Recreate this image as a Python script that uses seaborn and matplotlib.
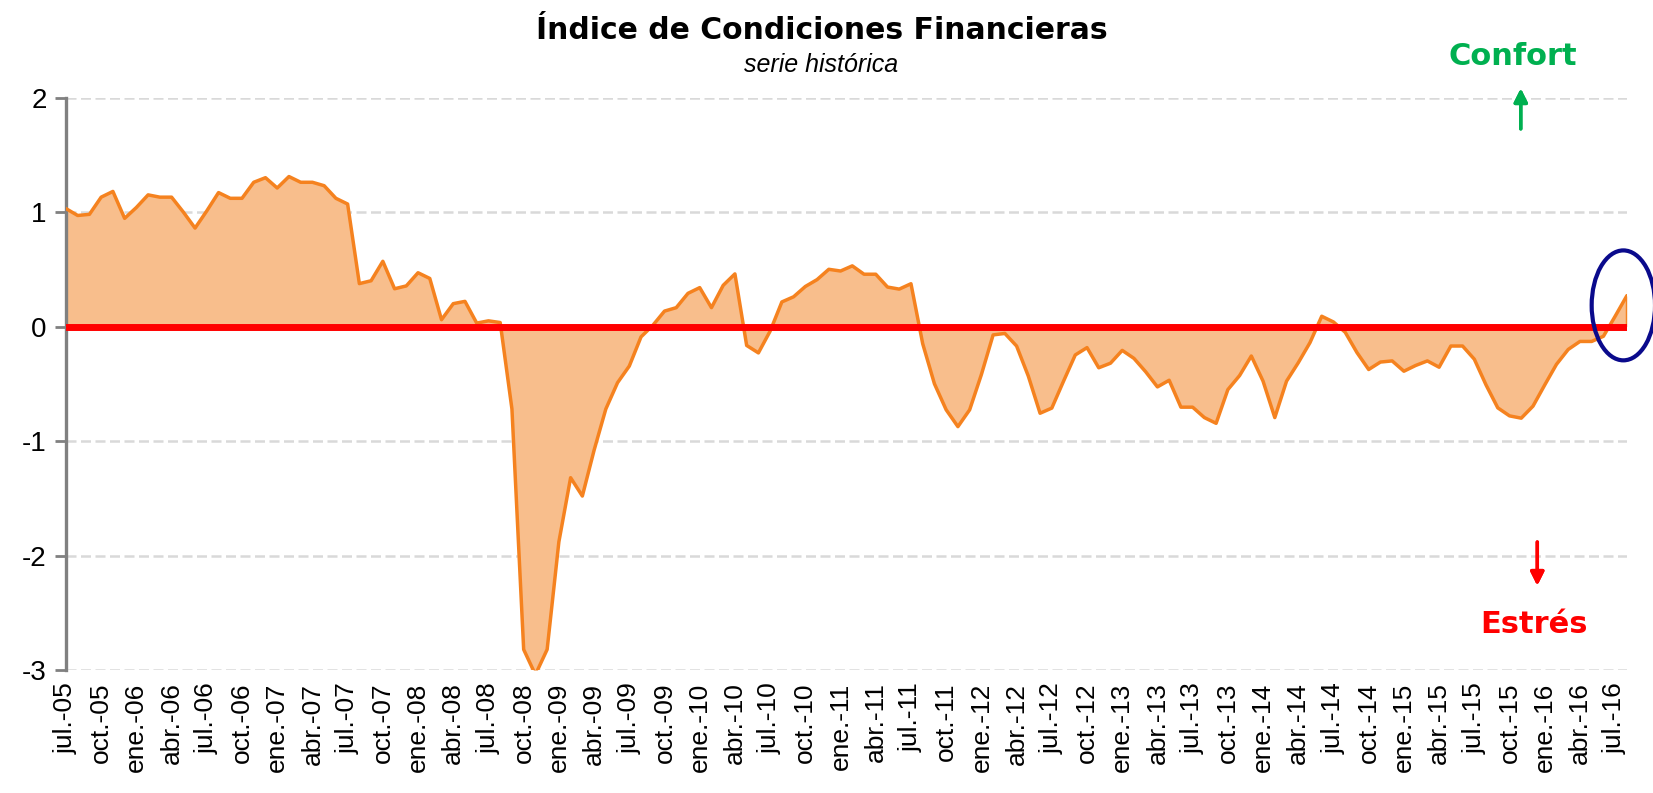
import numpy as np
import pandas as pd
import matplotlib
matplotlib.use("Agg")
import matplotlib.pyplot as plt
import seaborn as sns
from matplotlib.patches import Ellipse

# Índice de Condiciones Financieras, mensual jul-05 .. ago-16
START = "2005-07-01"
icf = [
    1.03, 0.97, 0.98, 1.13, 1.18, 0.945, 1.04, 1.15, 1.13, 1.13,
    1.00, 0.86, 1.01, 1.17, 1.12, 1.12, 1.26, 1.30, 1.21, 1.31,
    1.26, 1.26, 1.23, 1.12, 1.07, 0.375, 0.40, 0.57, 0.33, 0.355,
    0.47, 0.42, 0.06, 0.20, 0.22, 0.03, 0.05, 0.035, -0.72, -2.82,
    -3.04, -2.82, -1.88, -1.32, -1.48, -1.08, -0.72, -0.49, -0.345, -0.09,
    0.01, 0.135, 0.165, 0.29, 0.34, 0.165, 0.36, 0.46, -0.165, -0.23,
    -0.04, 0.215, 0.26, 0.35, 0.41, 0.50, 0.485, 0.53, 0.457, 0.457,
    0.345, 0.327, 0.374, -0.15, -0.50, -0.727, -0.874, -0.727, -0.419, -0.073,
    -0.06, -0.17, -0.433, -0.757, -0.712, -0.477, -0.248, -0.184, -0.36, -0.32,
    -0.208, -0.278, -0.395, -0.527, -0.469, -0.704, -0.704, -0.795, -0.845, -0.551,
    -0.428, -0.257, -0.477, -0.795, -0.477, -0.316, -0.14, 0.09, 0.04, -0.05,
    -0.227, -0.375, -0.31, -0.30, -0.39, -0.34, -0.30, -0.355, -0.17, -0.17,
    -0.285, -0.51, -0.71, -0.78, -0.80, -0.695, -0.51, -0.33, -0.20, -0.13,
    -0.13, -0.085, 0.09, 0.27,
]
MESES = ["ene", "feb", "mar", "abr", "may", "jun",
         "jul", "ago", "sep", "oct", "nov", "dic"]
y_ticks = [2, 1, 0, -1, -2, -3]

ORANGE = "#F5821F"
FILL = "#F8BE8C"
GREY = "#808080"

fechas = pd.date_range(START, periods=len(icf), freq="MS")
df = pd.DataFrame({"t": np.arange(len(icf)), "icf": icf})
tick_pos = df["t"][::3]
tick_lab = [f"{MESES[d.month - 1]}.-{d.year % 100:02d}" for d in fechas[::3]]

sns.set_theme(style="white")
plt.rcParams["font.family"] = ["Liberation Sans", "DejaVu Sans"]
plt.rcParams["text.color"] = "black"

fig = plt.figure(figsize=(16.53, 7.93), dpi=100)
ax = fig.add_axes([0.0399, 0.155, 0.9443, 0.722])

ax.fill_between(df["t"], df["icf"], 0, color=FILL, lw=0, zorder=2)
sns.lineplot(data=df, x="t", y="icf", color=ORANGE, lw=2.5, ax=ax, zorder=3)
ax.vlines(df["t"].iloc[-1], 0, df["icf"].iloc[-1], color=ORANGE, lw=2.5, zorder=3)
ax.axhline(0, color="#FF0000", lw=5, zorder=4)

for v in y_ticks:
    if v != 0:
        ax.axhline(v, color="#D9D9D9", lw=1.8, dashes=(4, 1.8), zorder=1)

ax.set_xlim(0, len(icf) - 1)
ax.set_ylim(-3, 2)
ax.set_yticks(y_ticks)
ax.set_yticklabels([str(v) for v in y_ticks], fontsize=20)
ax.set_xticks(tick_pos)
ax.set_xticklabels(tick_lab, rotation=90, fontsize=19)
ax.tick_params(axis="y", direction="out", length=8, width=2, color=GREY,
               labelcolor="black", pad=6, left=True)
ax.tick_params(axis="x", length=0, pad=9, labelcolor="black")
ax.set_xlabel("")
ax.set_ylabel("")
for s in ["top", "right", "bottom"]:
    ax.spines[s].set_visible(False)
ax.spines["left"].set_color(GREY)
ax.spines["left"].set_linewidth(2.4)

# marca del último dato
ax.add_patch(Ellipse((132.7, 0.185), width=5.4, height=0.96, fill=False,
                     edgecolor="#0A0A8C", lw=3, clip_on=False, zorder=5))

fig.text(0.497, 0.962, "Índice de Condiciones Financieras", ha="center", va="center",
         fontsize=21.5, fontweight="bold", family="DejaVu Sans")
fig.text(0.497, 0.918, "serie histórica", ha="center", va="center",
         fontsize=18, style="italic")

fig.text(0.915, 0.929, "Confort", ha="center", va="center", color="#00B050",
         fontsize=22, fontweight="bold", family="DejaVu Sans")
fig.text(0.928, 0.213, "Estrés", ha="center", va="center", color="#FF0000",
         fontsize=22, fontweight="bold", family="DejaVu Sans")
fig.add_artist(plt.annotate("", xy=(0.920, 0.892), xytext=(0.920, 0.834),
                            xycoords="figure fraction",
                            arrowprops=dict(arrowstyle="-|>", color="#00B050", lw=2.5,
                                            mutation_scale=20)))
fig.add_artist(plt.annotate("", xy=(0.930, 0.258), xytext=(0.930, 0.320),
                            xycoords="figure fraction",
                            arrowprops=dict(arrowstyle="-|>", color="#FF0000", lw=2.5,
                                            mutation_scale=20)))

fig.savefig("out.png", dpi=100)
